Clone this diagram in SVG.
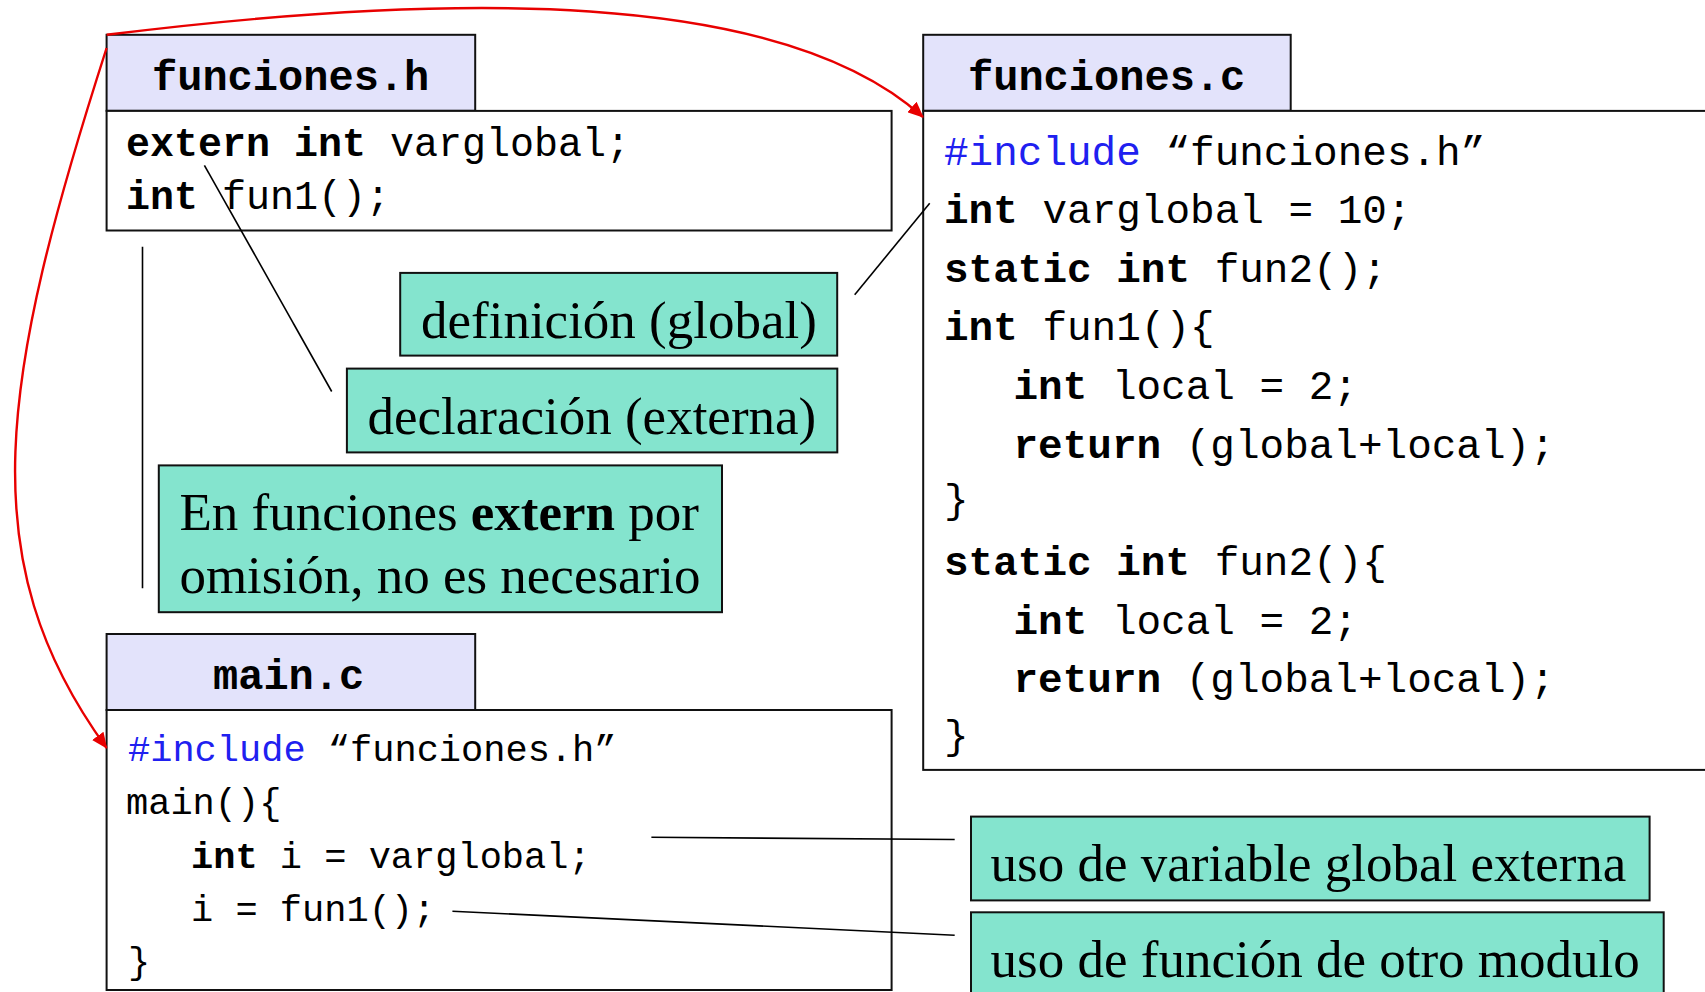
<svg xmlns="http://www.w3.org/2000/svg" width="1705" height="992" viewBox="0 0 1705 992">
<style>
.tab{fill:#E3E3FB;stroke:#111;stroke-width:2}
.body{fill:#fff;stroke:#111;stroke-width:2}
.note{fill:#84E4CE;stroke:#111;stroke-width:2}
.title{font-family:"Liberation Mono",monospace;font-weight:bold;font-size:42px;fill:#000}
.code{font-family:"Liberation Mono",monospace;font-size:41px;fill:#000}
.codem{font-family:"Liberation Mono",monospace;font-size:37px;fill:#000}
.codeh{font-family:"Liberation Mono",monospace;font-size:40px;fill:#000}
.kw{font-weight:bold}
.pp{fill:#2020F0}
.ann{font-family:"Liberation Serif",serif;font-size:53px;fill:#000}
.conn{stroke:#000;stroke-width:1.6;fill:none}
.red{stroke:#E80000;stroke-width:2.4;fill:none}
</style>
<defs>
<marker id="ah" markerWidth="16" markerHeight="14" refX="15" refY="7" orient="auto" markerUnits="userSpaceOnUse" viewBox="0 0 16 14">
<path d="M0,0 L16,7 L0,14 z" fill="#E80000"/>
</marker>
</defs>

<g id="funciones_h">
<rect class="tab" x="106.6" y="34.8" width="368.6" height="76"/>
<rect class="body" x="106.6" y="110.9" width="785" height="119.6"/>
<text class="title" x="152" y="90">funciones.h</text>
<text class="codeh" x="126" y="156"><tspan class="kw">extern int</tspan> varglobal;</text>
<text class="codeh" x="126" y="209"><tspan class="kw">int</tspan> fun1();</text>
</g>

<g id="funciones_c">
<rect class="tab" x="923.2" y="34.8" width="367.5" height="76"/>
<rect class="body" x="923.2" y="110.9" width="800" height="659"/>
<text class="title" x="968" y="90">funciones.c</text>
<text class="code" x="944" y="165"><tspan class="pp">#include</tspan> “funciones.h”</text>
<text class="code" x="944" y="223"><tspan class="kw">int</tspan> varglobal = 10;</text>
<text class="code" x="944" y="282"><tspan class="kw">static int</tspan> fun2();</text>
<text class="code" x="944" y="340"><tspan class="kw">int</tspan> fun1(){</text>
<text class="code" x="1013.5" y="399"><tspan class="kw">int</tspan> local = 2;</text>
<text class="code" x="1013.5" y="458"><tspan class="kw">return</tspan> (global+local);</text>
<text class="code" x="944" y="513">}</text>
<text class="code" x="944" y="575"><tspan class="kw">static int</tspan> fun2(){</text>
<text class="code" x="1013.5" y="634"><tspan class="kw">int</tspan> local = 2;</text>
<text class="code" x="1013.5" y="692"><tspan class="kw">return</tspan> (global+local);</text>
<text class="code" x="944" y="749">}</text>
</g>

<g id="main_c">
<rect class="tab" x="106.6" y="634" width="368.6" height="76"/>
<rect class="body" x="106.6" y="710" width="785" height="280"/>
<text class="title" x="213" y="689">main.c</text>
<text class="codem" x="128" y="761"><tspan class="pp">#include</tspan> “funciones.h”</text>
<text class="codem" x="126" y="814">main(){</text>
<text class="codem" x="191" y="868"><tspan class="kw">int</tspan> i = varglobal;</text>
<text class="codem" x="191" y="921">i = fun1();</text>
<text class="codem" x="128" y="973">}</text>
</g>

<g id="note_definicion">
<rect class="note" x="400.2" y="272.9" width="437" height="82.7"/>
<text class="ann" x="421" y="338">definición (global)</text>
</g>

<g id="note_declaracion">
<rect class="note" x="346.9" y="368.6" width="490.4" height="83.8"/>
<text class="ann" x="367.5" y="434">declaración (externa)</text>
</g>

<g id="note_extern">
<rect class="note" x="158.8" y="465.4" width="563.2" height="146.8"/>
<text class="ann" x="179.4" y="530">En funciones <tspan font-weight="bold">extern</tspan> por</text>
<text class="ann" x="179.4" y="593">omisión, no es necesario</text>
</g>

<g id="note_uso_var">
<rect class="note" x="971" y="816.6" width="678.6" height="83.8"/>
<text class="ann" x="990.6" y="881">uso de variable global externa</text>
</g>

<g id="note_uso_fun">
<rect class="note" x="971" y="912.3" width="692.7" height="90"/>
<text class="ann" x="990.6" y="976.5">uso de función de otro modulo</text>
</g>

<g id="connectors">
<line class="conn" x1="142.5" y1="246.8" x2="142.5" y2="588.3"/>
<line class="conn" x1="204.4" y1="165.3" x2="331.7" y2="391.5"/>
<line class="conn" x1="929.7" y1="203.3" x2="854.7" y2="294.7"/>
<line class="conn" x1="651.4" y1="837.3" x2="954.7" y2="839.5"/>
<line class="conn" x1="452.4" y1="911.2" x2="954.7" y2="935.2"/>
<path class="red" d="M106.6,34.8 C450,-8 780,-12 923,117" marker-end="url(#ah)"/>
<path class="red" d="M106.6,48 C0,380 -30,560 106.6,748" marker-end="url(#ah)"/>
</g>
</svg>
